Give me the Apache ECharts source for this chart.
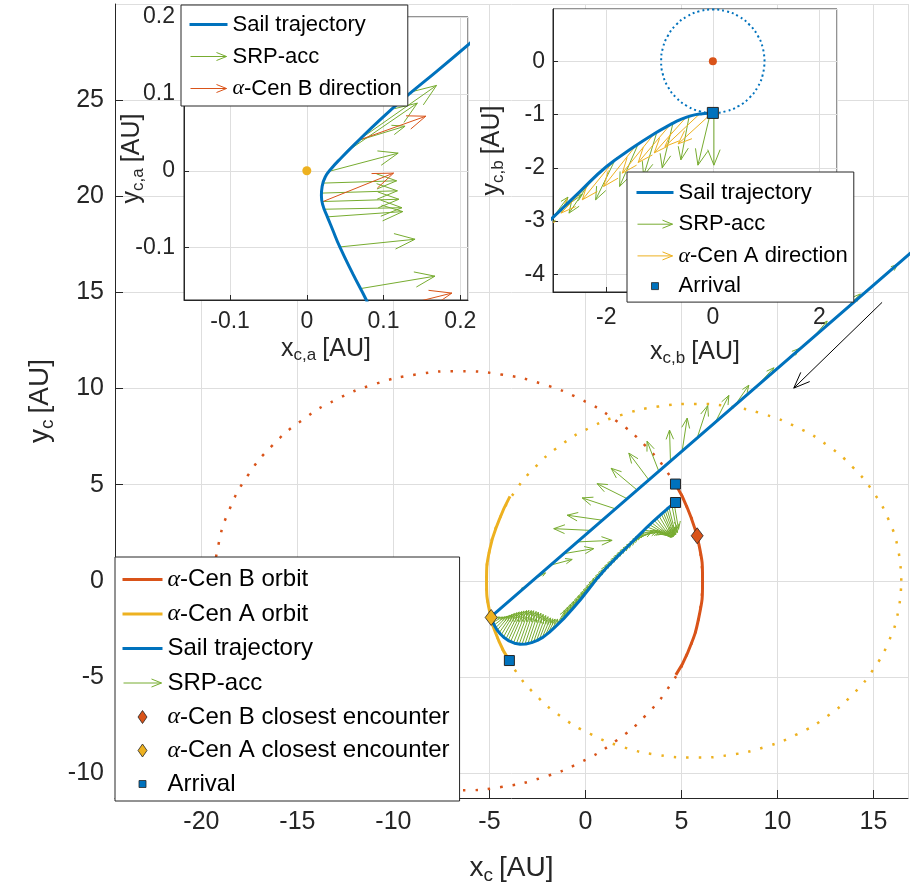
<!DOCTYPE html>
<html><head><meta charset="utf-8">
<script src="https://cdn.jsdelivr.net/npm/echarts@6/dist/echarts.min.js"></script>
<style>html,body{margin:0;padding:0;background:#fff}#c{width:913px;height:893px}</style>
</head><body><div id="c"></div>
<script>
// ---------------- DATA ----------------
// Main plot (x_c, y_c in AU)
const bOrbitDotted = [[6.10,0],[5.91,1.89],[5.33,3.73],[4.40,5.45],[3.13,7.01],[1.56,8.35],[-0.25,9.44],[-2.26,10.24],[-4.40,10.73],[-6.60,10.90],[-8.80,10.73],[-10.94,10.24],[-12.95,9.44],[-14.76,8.35],[-16.33,7.01],[-17.60,5.45],[-18.53,3.73],[-19.11,1.89],[-19.30,0],[-19.11,-1.89],[-18.53,-3.73],[-17.60,-5.45],[-16.33,-7.01],[-14.76,-8.35],[-12.95,-9.44],[-10.94,-10.24],[-8.80,-10.73],[-6.60,-10.90],[-4.40,-10.73],[-2.26,-10.24],[-0.25,-9.44],[1.56,-8.35],[3.13,-7.01],[4.40,-5.45],[5.33,-3.73],[5.91,-1.89],[6.10,0]];
const bOrbitArc = [[4.69,5.03],[5.33,3.73],[5.91,1.89],[6.10,0],[5.91,-1.89],[5.33,-3.73],[4.71,-4.9]];
const aOrbitDotted = [[16.45,0],[16.29,1.60],[15.80,3.15],[15.00,4.60],[13.92,5.91],[12.59,7.05],[11.05,7.97],[9.34,8.65],[7.52,9.06],[5.65,9.20],[3.78,9.06],[1.96,8.65],[0.25,7.97],[-1.29,7.05],[-2.62,5.91],[-3.70,4.60],[-4.50,3.15],[-4.99,1.60],[-5.15,0],[-4.99,-1.60],[-4.50,-3.15],[-3.70,-4.60],[-2.62,-5.91],[-1.29,-7.05],[0.25,-7.97],[1.96,-8.65],[3.78,-9.06],[5.65,-9.20],[7.52,-9.06],[9.34,-8.65],[11.05,-7.97],[12.59,-7.05],[13.92,-5.91],[15.00,-4.60],[15.80,-3.15],[16.29,-1.60],[16.45,0]];
const aOrbitArc = [[-3.93,4.39],[-4.50,3.15],[-4.99,1.60],[-5.15,0],[-4.99,-1.60],[-4.50,-3.15],[-3.96,-4.15]];
const sailMain = [[17.6,17.63],[-4.91,-1.86],[-4.84,-2.1],[-4.74,-2.33],[-4.6,-2.56],[-4.43,-2.77],[-4.22,-2.97],[-3.98,-3.13],[-3.7,-3.25],[-3.4,-3.3],[-3.1,-3.29],[-2.8,-3.22],[-2.5,-3.1],[-2.2,-2.93],[-1.9,-2.7],[-1.6,-2.42],[-1.13,-1.97],[-0.7,-1.5],[-0.26,-0.99],[0.18,-0.43],[0.61,0.12],[1.1,0.68],[1.65,1.24],[2.2,1.78],[2.7,2.28],[3.2,2.78],[3.56,3.12],[3.95,3.47],[4.25,3.73],[4.5,3.93],[4.69,4.07]];
// SRP-acc arrows: [x start, y start, x tip, y tip]
const srpMain = [
 [15.4,15.73,16.25,16.45],[13.37,13.97,14.32,14.92],[11.89,12.69,12.59,13.51],[10.24,11.26,11.11,12.07],[8.94,10.13,9.81,11.08],
 [7.81,9.16,8.51,10.17],[6.77,8.25,7.47,9.64],[5.82,7.43,6.37,9.11],[5.04,6.76,5.30,8.46],[4.43,6.23,4.38,7.84],
 [3.82,5.70,3.21,7.26],[3.30,5.25,2.26,6.64],[2.69,4.72,1.34,5.85],[2.17,4.27,0.61,5.05],[1.56,3.74,-0.17,4.31],
 [0.87,3.15,-0.95,3.41],[0.26,2.62,-1.65,2.71],[-0.43,2.02,1.39,2.10],[-1.13,1.41,0.43,1.67],[-1.82,0.81,-0.69,1.11],
 [-2.69,0.06,-2.08,0.41],[-3.56,-0.69,-3.21,-0.34],
 [-4.86,-2.0,-4.45,-1.9],[-4.8,-2.15,-4.32,-1.89],[-4.75,-2.3,-4.2,-1.88],[-4.68,-2.45,-4.07,-1.84],[-4.6,-2.58,-3.95,-1.8],
 [-4.5,-2.72,-3.82,-1.75],[-4.4,-2.84,-3.7,-1.7],[-4.28,-2.95,-3.57,-1.66],[-4.15,-3.05,-3.45,-1.62],[-4.03,-3.12,-3.32,-1.6],
 [-3.9,-3.18,-3.2,-1.57],[-3.75,-3.24,-3.07,-1.55],[-3.6,-3.28,-2.95,-1.54],[-3.45,-3.3,-2.82,-1.55],[-3.3,-3.3,-2.7,-1.56],
 [-3.15,-3.29,-2.57,-1.6],[-3.0,-3.27,-2.45,-1.63],[-2.85,-3.23,-2.32,-1.69],[-2.7,-3.19,-2.2,-1.75],[-2.55,-3.12,-2.07,-1.81],
 [-2.4,-3.05,-1.95,-1.87],[-2.25,-2.96,-1.82,-1.93],[-2.1,-2.87,-1.7,-1.98],[-1.95,-2.74,-1.58,-1.99],[-1.8,-2.63,-1.45,-2.0],
 [-1.6,-2.45,-1.05,-1.55],[-1.45,-2.3,-0.9,-1.4],[-1.3,-2.16,-0.75,-1.25],[-1.15,-2.01,-0.6,-1.1],[-1.0,-1.86,-0.45,-0.95],
 [-0.85,-1.69,-0.3,-0.78],[-0.7,-1.52,-0.15,-0.62],[-0.55,-1.34,0.0,-0.45],[-0.4,-1.16,0.15,-0.28],[-0.25,-0.97,0.3,-0.1],
 [-0.1,-0.78,0.45,0.08],[0.05,-0.59,0.62,0.25],[0.2,-0.4,0.78,0.42],[0.35,-0.2,0.95,0.6],[0.5,-0.02,1.1,0.78],
 [0.65,0.16,1.27,0.93],[0.8,0.34,1.42,1.08],[0.95,0.51,1.6,1.25],[1.1,0.68,1.75,1.4],[1.25,0.84,1.92,1.55],
 [1.4,0.99,2.08,1.7],[1.55,1.14,2.25,1.84],[1.7,1.29,2.42,1.98],[1.85,1.44,2.6,2.13],[2.0,1.58,2.75,2.28],
 [2.15,1.73,2.9,2.4],[2.3,1.88,3.05,2.5],[2.45,2.03,3.45,2.55],[2.6,2.18,3.75,2.6],[2.75,2.33,3.9,2.55],
 [2.9,2.48,4.0,2.5],[3.05,2.64,4.1,2.45],[3.2,2.8,4.2,2.42],[3.33,2.92,4.28,2.36],[3.45,3.02,4.35,2.32],
 [3.58,3.14,4.4,2.28],[3.7,3.25,4.45,2.25],[3.83,3.37,4.5,2.26],[3.95,3.48,4.55,2.28],[4.05,3.56,4.58,2.3],
 [4.15,3.65,4.62,2.35],[4.25,3.73,4.66,2.38],[4.35,3.82,4.7,2.4],[4.5,3.94,4.78,2.5],[4.62,4.02,4.85,2.68]
];
const bEncounter = [[5.82,2.34]];
const aEncounter = [[-4.91,-1.91]];
const arrivalMain = [[4.69,5.03],[4.69,4.07],[-3.96,-4.15]];
const motionArrow = [[15.45,14.48,10.85,10.02]];

// Inset 1 (x_c,a , y_c,a in AU)
const sailInsetA = [[0.215,0.168],[0.17,0.13],[0.13,0.097],[0.095,0.066],[0.065,0.037],[0.045,0.017],[0.032,0.003],[0.024,-0.008],[0.020,-0.020],[0.019,-0.032],[0.021,-0.045],[0.026,-0.058],[0.033,-0.075],[0.043,-0.099],[0.060,-0.134],[0.078,-0.169],[0.082,-0.18]];
const srpInsetA = [[0.069,0.041,0.169,0.111],[0.052,0.025,0.144,0.088],[0.069,0.040,0.128,0.058],[0.028,-0.001,0.119,0.023],[0.021,-0.016,0.117,-0.013],[0.019,-0.029,0.118,-0.026],[0.019,-0.040,0.120,-0.037],[0.021,-0.050,0.124,-0.048],[0.025,-0.060,0.125,-0.053],[0.043,-0.099,0.141,-0.089],[0.071,-0.153,0.167,-0.137]];
const bDirInsetA = [[0.071,0.041,0.155,0.071],[0.021,-0.040,0.113,-0.003],[0.085,-0.185,0.189,-0.159]];
const starA = [[0,0]];

// Inset 2 (x_c,b , y_c,b in AU)
const sailInsetB = [[-3.1,-3.02],[-3.0,-2.93],[-2.5,-2.45],[-2.0,-1.98],[-1.5,-1.62],[-1.1,-1.36],[-0.8,-1.19],[-0.6,-1.09],[-0.4,-1.02],[-0.2,-0.985],[0,-0.97]];
const arrivalCircle = [[0.97,0],[0.937,0.251],[0.840,0.485],[0.686,0.686],[0.485,0.840],[0.251,0.937],[0,0.97],[-0.251,0.937],[-0.485,0.840],[-0.686,0.686],[-0.840,0.485],[-0.937,0.251],[-0.97,0],[-0.937,-0.251],[-0.840,-0.485],[-0.686,-0.686],[-0.485,-0.840],[-0.251,-0.937],[0,-0.97],[0.251,-0.937],[0.485,-0.840],[0.686,-0.686],[0.840,-0.485],[0.937,-0.251],[0.97,0]];
const srpInsetB = [[0.02,-0.98,0.02,-1.95],[-0.05,-0.99,-0.28,-1.95],[-0.45,-1.06,-0.6,-1.85],[-0.75,-1.17,-0.95,-2.0],[-1.05,-1.33,-1.3,-2.15],[-1.4,-1.55,-1.75,-2.35],[-1.85,-1.88,-2.2,-2.6],[-2.3,-2.26,-2.7,-2.85],[-2.75,-2.69,-3.1,-3.05],[-3.0,-2.93,-2.72,-2.55],[-2.8,-2.75,-2.45,-2.5]];
const aDirInsetB = [[-0.02,-0.975,-0.65,-1.55],[-0.25,-0.99,-0.9,-1.6],[-0.5,-1.05,-1.1,-1.72],[-0.8,-1.19,-1.4,-1.9],[-1.1,-1.36,-1.7,-2.1],[-1.45,-1.59,-2.05,-2.35],[-1.8,-1.8,-2.45,-2.6],[-2.2,-2.18,-2.85,-2.85],[-2.6,-2.56,-3.2,-3.1]];
const starB = [[0,0]];
const arrivalInsetB = [[0,-0.97]];

// ---------------- STYLE ----------------
const FONT = 'Liberation Sans, Arial, Helvetica, sans-serif';
const AXC = '#262626';
const BLUE = '#0072BD', RED = '#D95319', ORANGE = '#EDB120', GREEN = '#77AC30';

function arrowRenderer(color, lw, headFrac, headMax, widthFrac) {
  return function (params, api) {
    const p0 = api.coord([api.value(0), api.value(1)]);
    const p1 = api.coord([api.value(2), api.value(3)]);
    const dx = p1[0] - p0[0], dy = p1[1] - p0[1];
    const len = Math.sqrt(dx * dx + dy * dy) || 1;
    const ux = dx / len, uy = dy / len;
    const h = Math.min(len * headFrac, headMax);
    const w = h * widthFrac;
    const b = [p1[0] - ux * h, p1[1] - uy * h];
    const l = [b[0] - uy * w, b[1] + ux * w];
    const r = [b[0] + uy * w, b[1] - ux * w];
    return { type: 'group', children: [
      { type: 'polyline', shape: { points: [p0, p1] }, style: { stroke: color, lineWidth: lw, fill: 'none' } },
      { type: 'polyline', shape: { points: [l, p1, r] }, style: { stroke: color, lineWidth: lw, fill: 'none' } }
    ]};
  };
}

function axisBase(extra) {
  return Object.assign({
    type: 'value',
    axisLine: { show: true, onZero: false, lineStyle: { color: AXC, width: 1 } },
    axisTick: { show: true, inside: true, length: 7, lineStyle: { color: AXC } },
    splitLine: { show: true, lineStyle: { color: '#dedede', width: 1 } },
    nameLocation: 'middle'
  }, extra);
}
function lbl(size, margin, showMin, showMax) {
  return { fontSize: size, color: AXC, fontFamily: FONT, margin: margin, showMinLabel: showMin, showMaxLabel: showMax };
}
function nameStyle(big, small, pad) {
  return { color: AXC, fontFamily: FONT, rich: { v: { fontSize: big, fontFamily: FONT, color: AXC }, s: { fontSize: small, fontFamily: FONT, color: AXC, padding: [pad, 6, 0, 0] } } };
}

const lineIcon = w => 'path://M0,0M' + w + ',20M0,10L' + w + ',10';
const arrowIcon = w => 'path://M0,0M' + w + ',20M1,10L' + (w - 1) + ',10M' + (w - 11) + ',6L' + (w - 1) + ',10L' + (w - 11) + ',14';
const diamondIcon = 'path://M0,0M40,20M20,3.5L24.5,10L20,16.5L15.5,10Z';
const squareIcon = w => 'path://M0,0M' + w + ',20M' + (w / 2 - 3.5) + ',6.5L' + (w / 2 + 3.5) + ',6.5L' + (w / 2 + 3.5) + ',13.5L' + (w / 2 - 3.5) + ',13.5Z';
const fmt = name => name.replace('α', '{g|α}');
function legendText(size) {
  return { fontSize: size, color: '#000', fontFamily: FONT, rich: { g: { fontSize: size, fontFamily: 'Liberation Serif, DejaVu Serif, serif', fontStyle: 'italic', color: '#000' } } };
}

const option = {
  animation: false,
  backgroundColor: '#fff',
  grid: [
    { left: 115, top: 4, width: 793, height: 794, z: 0 },
    { left: 184, top: 17, width: 284, height: 283, show: true, backgroundColor: '#fff', borderColor: AXC, borderWidth: 1, z: 10 },
    { left: 553, top: 9, width: 284, height: 283, show: true, backgroundColor: '#fff', borderColor: AXC, borderWidth: 1, z: 10 }
  ],
  xAxis: [
    axisBase({ gridIndex: 0, min: -24.5, max: 16.8, minInterval: 5, maxInterval: 5, z: 1, axisTick: { show: true, inside: true, length: 8, lineStyle: { color: AXC } },
      axisLabel: lbl(25, 12, false, false), name: '{v|x}{s|c}{v|[AU]}', nameGap: 54, nameTextStyle: nameStyle(28, 19, 14) }),
    axisBase({ gridIndex: 1, min: -0.16, max: 0.21, minInterval: 0.1, maxInterval: 0.1, z: 11, axisTick: { show: true, inside: true, length: 5, lineStyle: { color: AXC } },
      axisLabel: lbl(23, 10, false, false), name: '{v|x}{s|c,a}{v|[AU]}', nameGap: 35, nameTextStyle: nameStyle(25, 17, 12) }),
    axisBase({ gridIndex: 2, min: -3, max: 2.33, minInterval: 2, maxInterval: 2, z: 11, axisTick: { show: true, inside: true, length: 5, lineStyle: { color: AXC } },
      axisLabel: lbl(23, 14, false, false), name: '{v|x}{s|c,b}{v|[AU]}', nameGap: 46, nameTextStyle: nameStyle(25, 17, 12) })
  ],
  yAxis: [
    axisBase({ gridIndex: 0, min: -11.3, max: 30, minInterval: 5, maxInterval: 5, z: 1, axisTick: { show: true, inside: true, length: 8, lineStyle: { color: AXC } },
      axisLabel: lbl(25, 11, false, false), name: '{v|y}{s|c}{v|[AU]}', nameGap: 55, nameTextStyle: nameStyle(28, 19, 14) }),
    axisBase({ gridIndex: 1, min: -0.168, max: 0.2, minInterval: 0.1, maxInterval: 0.1, z: 11, axisTick: { show: true, inside: true, length: 5, lineStyle: { color: AXC } },
      axisLabel: lbl(23, 9, false, true), name: '{v|y}{s|c,a}{v|[AU]}', nameGap: 37, nameMoveOverlap: false, nameTextStyle: nameStyle(25, 17, 12) }),
    axisBase({ gridIndex: 2, min: -4.33, max: 0.98, minInterval: 1, maxInterval: 1, z: 11, axisTick: { show: true, inside: true, length: 5, lineStyle: { color: AXC } },
      axisLabel: lbl(23, 8, false, false), name: '{v|y}{s|c,b}{v|[AU]}', nameGap: 46, nameTextStyle: nameStyle(25, 17, 12) })
  ],
  legend: [
    { left: 115, top: 557, orient: 'vertical', selectedMode: false, z: 20,
      itemWidth: 40, itemHeight: 20, itemGap: 9.5, padding: [10, 10, 5, 5],
      backgroundColor: '#fff', borderColor: AXC, borderWidth: 1, borderRadius: 0,
      formatter: fmt, textStyle: legendText(24),
      data: [
        { name: 'α-Cen B orbit', icon: lineIcon(40), itemStyle: { color: 'none', borderColor: RED, borderWidth: 3 } },
        { name: 'α-Cen A orbit', icon: lineIcon(40), itemStyle: { color: 'none', borderColor: ORANGE, borderWidth: 3 } },
        { name: 'Sail trajectory', icon: lineIcon(40), itemStyle: { color: 'none', borderColor: BLUE, borderWidth: 3 } },
        { name: 'SRP-acc', icon: arrowIcon(40), itemStyle: { color: 'none', borderColor: GREEN, borderWidth: 1 } },
        { name: 'α-Cen B closest encounter', icon: diamondIcon, itemStyle: { color: RED, borderColor: AXC, borderWidth: 0.8 } },
        { name: 'α-Cen A closest encounter', icon: diamondIcon, itemStyle: { color: ORANGE, borderColor: AXC, borderWidth: 0.8 } },
        { name: 'Arrival', icon: squareIcon(40), itemStyle: { color: BLUE, borderColor: AXC, borderWidth: 0.8 } }
      ] },
    { left: 181, top: 5, orient: 'vertical', selectedMode: false, z: 20,
      itemWidth: 38, itemHeight: 20, itemGap: 7, padding: [7, 6, 5, 6],
      backgroundColor: '#fff', borderColor: AXC, borderWidth: 1,
      formatter: fmt, textStyle: legendText(22),
      data: [
        { name: 'Sail trajectory', icon: lineIcon(38), itemStyle: { color: 'none', borderColor: BLUE, borderWidth: 3 } },
        { name: 'SRP-acc', icon: arrowIcon(38), itemStyle: { color: 'none', borderColor: GREEN, borderWidth: 1 } },
        { name: 'α-Cen B direction', icon: arrowIcon(38), itemStyle: { color: 'none', borderColor: RED, borderWidth: 1 } }
      ] },
    { left: 627, top: 172, orient: 'vertical', selectedMode: false, z: 20,
      itemWidth: 37, itemHeight: 20, itemGap: 6.7, padding: [8, 6, 5, 7],
      backgroundColor: '#fff', borderColor: AXC, borderWidth: 1,
      formatter: fmt, textStyle: legendText(22),
      data: [
        { name: 'Sail trajectory', icon: lineIcon(37), itemStyle: { color: 'none', borderColor: BLUE, borderWidth: 3 } },
        { name: 'SRP-acc', icon: arrowIcon(37), itemStyle: { color: 'none', borderColor: GREEN, borderWidth: 1 } },
        { name: 'α-Cen A direction', icon: arrowIcon(37), itemStyle: { color: 'none', borderColor: ORANGE, borderWidth: 1 } },
        { name: 'Arrival', icon: squareIcon(37), itemStyle: { color: BLUE, borderColor: AXC, borderWidth: 0.8 } }
      ] }
  ],
  series: [
    // ---- main ----
    { name: 'B orbit path', type: 'line', xAxisIndex: 0, yAxisIndex: 0, data: bOrbitDotted, smooth: true, symbol: 'none', z: 2,
      lineStyle: { color: RED, width: 2.5, type: [2.5, 10] } },
    { name: 'A orbit path', type: 'line', xAxisIndex: 0, yAxisIndex: 0, data: aOrbitDotted, smooth: true, symbol: 'none', z: 2,
      lineStyle: { color: ORANGE, width: 2.5, type: [2.5, 10] } },
    { name: 'SRP-acc', type: 'custom', xAxisIndex: 0, yAxisIndex: 0, data: srpMain, clip: true, z: 3,
      renderItem: arrowRenderer(GREEN, 1, 0.3, 16, 0.4) },
    { name: 'α-Cen B orbit', type: 'line', xAxisIndex: 0, yAxisIndex: 0, data: bOrbitArc, smooth: true, symbol: 'none', z: 3,
      lineStyle: { color: RED, width: 3 } },
    { name: 'α-Cen A orbit', type: 'line', xAxisIndex: 0, yAxisIndex: 0, data: aOrbitArc, smooth: true, symbol: 'none', z: 3,
      lineStyle: { color: ORANGE, width: 3 } },
    { name: 'Sail trajectory', type: 'line', xAxisIndex: 0, yAxisIndex: 0, data: sailMain, smooth: false, symbol: 'none', z: 4,
      lineStyle: { color: BLUE, width: 3, join: 'round' } },
    { name: 'α-Cen B closest encounter', type: 'scatter', xAxisIndex: 0, yAxisIndex: 0, data: bEncounter, symbol: 'diamond', symbolSize: [12, 16], z: 5,
      itemStyle: { color: RED, borderColor: AXC, borderWidth: 0.8, opacity: 1 } },
    { name: 'α-Cen A closest encounter', type: 'scatter', xAxisIndex: 0, yAxisIndex: 0, data: aEncounter, symbol: 'diamond', symbolSize: [12, 16], z: 5,
      itemStyle: { color: ORANGE, borderColor: AXC, borderWidth: 0.8, opacity: 1 } },
    { name: 'Arrival', type: 'scatter', xAxisIndex: 0, yAxisIndex: 0, data: arrivalMain, symbol: 'rect', symbolSize: 10, z: 5,
      itemStyle: { color: BLUE, borderColor: AXC, borderWidth: 1, opacity: 1 } },
    { name: 'motion', type: 'custom', xAxisIndex: 0, yAxisIndex: 0, data: motionArrow, clip: true, z: 5,
      renderItem: arrowRenderer('#000', 1, 0.2, 16, 0.4) },
    // ---- inset 1 ----
    { name: 'SRP-acc', type: 'custom', xAxisIndex: 1, yAxisIndex: 1, data: srpInsetA, clip: true, z: 12,
      renderItem: arrowRenderer(GREEN, 1, 0.27, 22, 0.38) },
    { name: 'α-Cen B direction', type: 'custom', xAxisIndex: 1, yAxisIndex: 1, data: bDirInsetA, clip: true, z: 12,
      renderItem: arrowRenderer(RED, 1, 0.27, 22, 0.38) },
    { name: 'Sail trajectory', type: 'line', xAxisIndex: 1, yAxisIndex: 1, data: sailInsetA, smooth: true, symbol: 'none', z: 13,
      lineStyle: { color: BLUE, width: 3 } },
    { name: 'α-Cen A', type: 'scatter', xAxisIndex: 1, yAxisIndex: 1, data: starA, symbol: 'circle', symbolSize: 9, z: 14,
      itemStyle: { color: ORANGE, opacity: 1 } },
    // ---- inset 2 ----
    { name: 'arrival orbit', type: 'line', xAxisIndex: 2, yAxisIndex: 2, data: arrivalCircle, smooth: true, symbol: 'none', z: 12,
      lineStyle: { color: BLUE, width: 2, type: [2, 3] } },
    { name: 'SRP-acc', type: 'custom', xAxisIndex: 2, yAxisIndex: 2, data: srpInsetB, clip: true, z: 12,
      renderItem: arrowRenderer(GREEN, 1, 0.3, 16, 0.4) },
    { name: 'α-Cen A direction', type: 'custom', xAxisIndex: 2, yAxisIndex: 2, data: aDirInsetB, clip: true, z: 12,
      renderItem: arrowRenderer(ORANGE, 1, 0.3, 16, 0.4) },
    { name: 'Sail trajectory', type: 'line', xAxisIndex: 2, yAxisIndex: 2, data: sailInsetB, smooth: true, symbol: 'none', z: 13,
      lineStyle: { color: BLUE, width: 3 } },
    { name: 'α-Cen B', type: 'scatter', xAxisIndex: 2, yAxisIndex: 2, data: starB, symbol: 'circle', symbolSize: 8, z: 14,
      itemStyle: { color: RED, opacity: 1 } },
    { name: 'Arrival', type: 'scatter', xAxisIndex: 2, yAxisIndex: 2, data: arrivalInsetB, symbol: 'rect', symbolSize: 11, z: 14,
      itemStyle: { color: BLUE, borderColor: AXC, borderWidth: 1, opacity: 1 } }
  ]
};
const chart = echarts.init(document.getElementById('c'), null, { renderer: 'canvas' });
chart.setOption(option);
</script></body></html>
